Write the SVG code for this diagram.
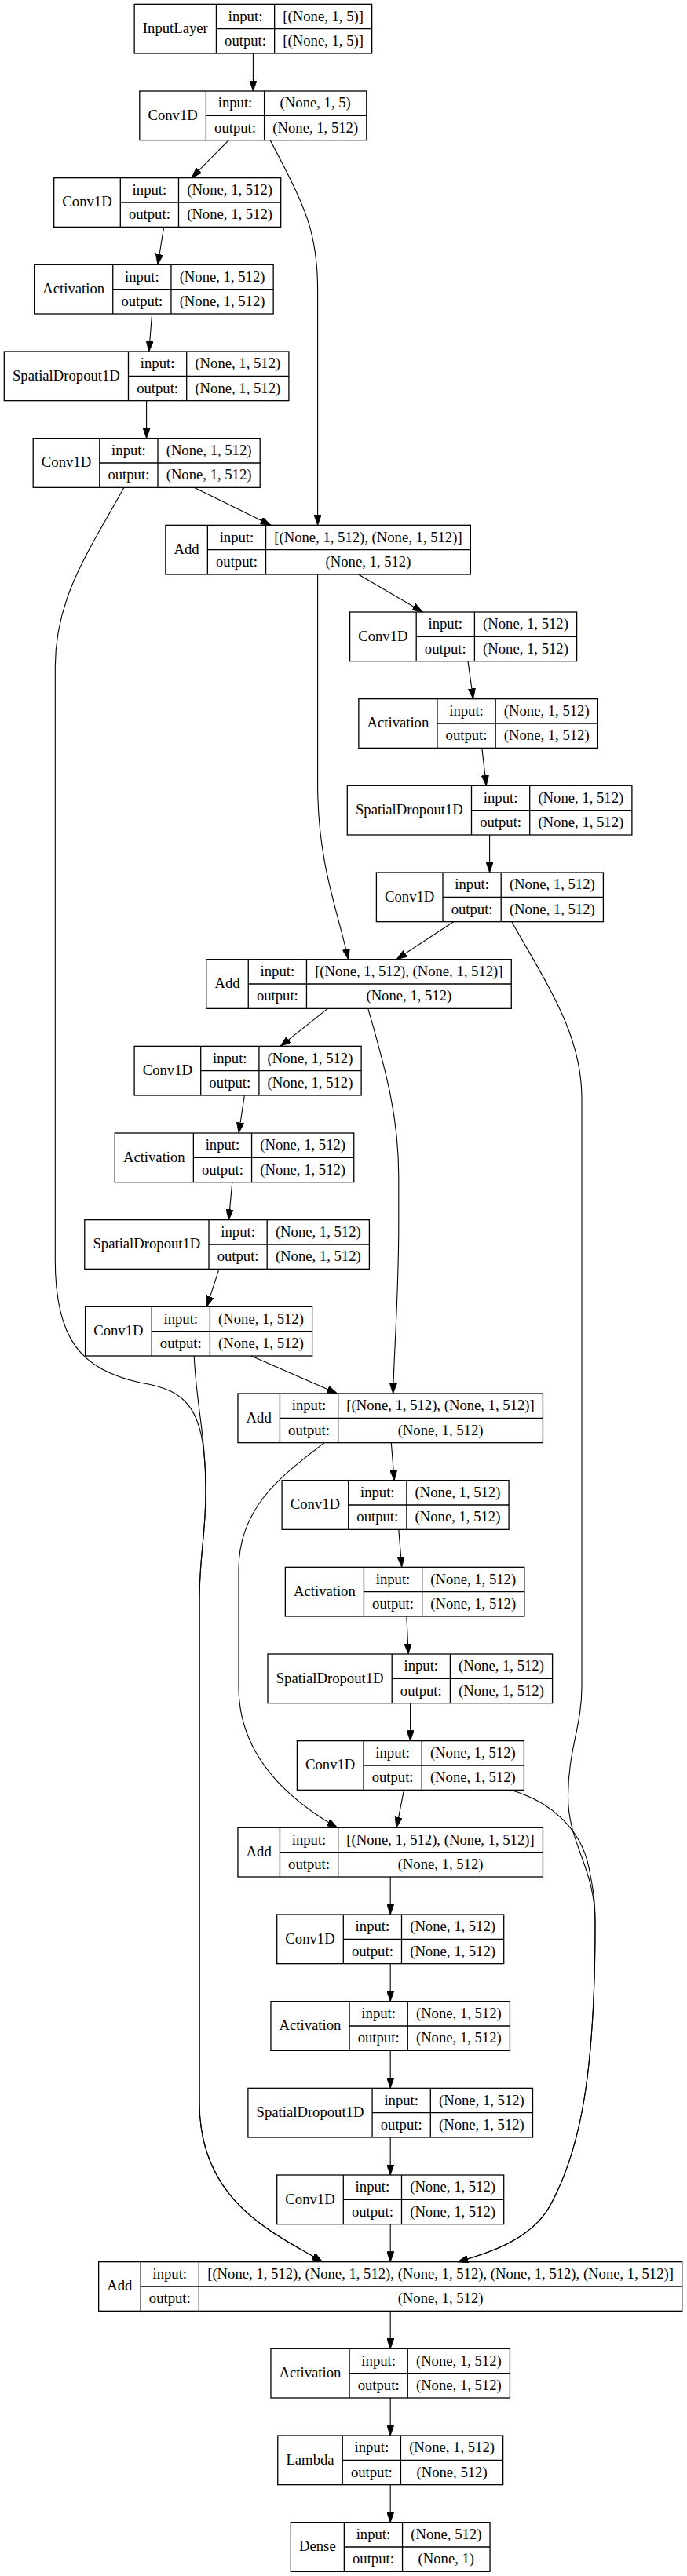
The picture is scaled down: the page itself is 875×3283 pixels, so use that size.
<svg xmlns="http://www.w3.org/2000/svg" width="875" height="3283" viewBox="0 0 875 3283">
<defs>
<style>
.b{fill:none;stroke:#000;stroke-width:1.3}
.t{font-family:"Liberation Serif","Times New Roman",serif;font-size:18.67px;text-anchor:middle;fill:#000}
.e path{fill:none;stroke:#000;stroke-width:1.1;marker-end:url(#ah)}
</style>
<marker id="ah" viewBox="0 0 13.33 9.33" refX="13.33" refY="4.67" markerWidth="13.33" markerHeight="9.33" orient="auto" markerUnits="userSpaceOnUse">
<path d="M0,0 L13.33,4.67 L0,9.33 z" fill="#000" stroke="#000" stroke-width="0.8"/>
</marker>
</defs>
<rect width="875" height="3283" fill="#fff"/>

<g id="n0" transform="translate(171.15,5.33)"><rect class="b" width="302.5" height="62.67"/><path class="b" d="M104.3,0V62.67M178.5,0V62.67M104.3,31.33H302.5"/><text class="t" x="52.15" y="36.8">InputLayer</text><text class="t" x="141.4" y="21.2">input:</text><text class="t" x="141.4" y="52.5">output:</text><text class="t" x="240.5" y="21.2">[(None, 1, 5)]</text><text class="t" x="240.5" y="52.5">[(None, 1, 5)]</text></g>

<g id="n1" transform="translate(177.8,116)"><rect class="b" width="289" height="62.67"/><path class="b" d="M84.6,0V62.67M158.8,0V62.67M84.6,31.33H289"/><text class="t" x="42.3" y="36.8">Conv1D</text><text class="t" x="121.7" y="21.2">input:</text><text class="t" x="121.7" y="52.5">output:</text><text class="t" x="223.9" y="21.2">(None, 1, 5)</text><text class="t" x="223.9" y="52.5">(None, 1, 512)</text></g>

<g id="n2" transform="translate(68.7,226.67)"><rect class="b" width="289" height="62.67"/><path class="b" d="M84.6,0V62.67M158.8,0V62.67M84.6,31.33H289"/><text class="t" x="42.3" y="36.8">Conv1D</text><text class="t" x="121.7" y="21.2">input:</text><text class="t" x="121.7" y="52.5">output:</text><text class="t" x="223.9" y="21.2">(None, 1, 512)</text><text class="t" x="223.9" y="52.5">(None, 1, 512)</text></g>

<g id="n3" transform="translate(43.65,337.33)"><rect class="b" width="304.5" height="62.67"/><path class="b" d="M100.1,0V62.67M174.3,0V62.67M100.1,31.33H304.5"/><text class="t" x="50.05" y="36.8">Activation</text><text class="t" x="137.2" y="21.2">input:</text><text class="t" x="137.2" y="52.5">output:</text><text class="t" x="239.4" y="21.2">(None, 1, 512)</text><text class="t" x="239.4" y="52.5">(None, 1, 512)</text></g>

<g id="n4" transform="translate(5.3,448)"><rect class="b" width="362.6" height="62.67"/><path class="b" d="M158.2,0V62.67M232.4,0V62.67M158.2,31.33H362.6"/><text class="t" x="79.1" y="36.8">SpatialDropout1D</text><text class="t" x="195.3" y="21.2">input:</text><text class="t" x="195.3" y="52.5">output:</text><text class="t" x="297.5" y="21.2">(None, 1, 512)</text><text class="t" x="297.5" y="52.5">(None, 1, 512)</text></g>

<g id="n5" transform="translate(42.2,558.67)"><rect class="b" width="289" height="62.67"/><path class="b" d="M84.6,0V62.67M158.8,0V62.67M84.6,31.33H289"/><text class="t" x="42.3" y="36.8">Conv1D</text><text class="t" x="121.7" y="21.2">input:</text><text class="t" x="121.7" y="52.5">output:</text><text class="t" x="223.9" y="21.2">(None, 1, 512)</text><text class="t" x="223.9" y="52.5">(None, 1, 512)</text></g>

<g id="n6" transform="translate(210.85,669.33)"><rect class="b" width="388.5" height="62.67"/><path class="b" d="M53.5,0V62.67M127.7,0V62.67M53.5,31.33H388.5"/><text class="t" x="26.75" y="36.8">Add</text><text class="t" x="90.6" y="21.2">input:</text><text class="t" x="90.6" y="52.5">output:</text><text class="t" x="258.1" y="21.2">[(None, 1, 512), (None, 1, 512)]</text><text class="t" x="258.1" y="52.5">(None, 1, 512)</text></g>

<g id="n7" transform="translate(445.6,780)"><rect class="b" width="289" height="62.67"/><path class="b" d="M84.6,0V62.67M158.8,0V62.67M84.6,31.33H289"/><text class="t" x="42.3" y="36.8">Conv1D</text><text class="t" x="121.7" y="21.2">input:</text><text class="t" x="121.7" y="52.5">output:</text><text class="t" x="223.9" y="21.2">(None, 1, 512)</text><text class="t" x="223.9" y="52.5">(None, 1, 512)</text></g>

<g id="n8" transform="translate(456.85,890.67)"><rect class="b" width="304.5" height="62.67"/><path class="b" d="M100.1,0V62.67M174.3,0V62.67M100.1,31.33H304.5"/><text class="t" x="50.05" y="36.8">Activation</text><text class="t" x="137.2" y="21.2">input:</text><text class="t" x="137.2" y="52.5">output:</text><text class="t" x="239.4" y="21.2">(None, 1, 512)</text><text class="t" x="239.4" y="52.5">(None, 1, 512)</text></g>

<g id="n9" transform="translate(442.3,1001.33)"><rect class="b" width="362.6" height="62.67"/><path class="b" d="M158.2,0V62.67M232.4,0V62.67M158.2,31.33H362.6"/><text class="t" x="79.1" y="36.8">SpatialDropout1D</text><text class="t" x="195.3" y="21.2">input:</text><text class="t" x="195.3" y="52.5">output:</text><text class="t" x="297.5" y="21.2">(None, 1, 512)</text><text class="t" x="297.5" y="52.5">(None, 1, 512)</text></g>

<g id="n10" transform="translate(479.4,1112)"><rect class="b" width="289" height="62.67"/><path class="b" d="M84.6,0V62.67M158.8,0V62.67M84.6,31.33H289"/><text class="t" x="42.3" y="36.8">Conv1D</text><text class="t" x="121.7" y="21.2">input:</text><text class="t" x="121.7" y="52.5">output:</text><text class="t" x="223.9" y="21.2">(None, 1, 512)</text><text class="t" x="223.9" y="52.5">(None, 1, 512)</text></g>

<g id="n11" transform="translate(262.75,1222.67)"><rect class="b" width="388.5" height="62.67"/><path class="b" d="M53.5,0V62.67M127.7,0V62.67M53.5,31.33H388.5"/><text class="t" x="26.75" y="36.8">Add</text><text class="t" x="90.6" y="21.2">input:</text><text class="t" x="90.6" y="52.5">output:</text><text class="t" x="258.1" y="21.2">[(None, 1, 512), (None, 1, 512)]</text><text class="t" x="258.1" y="52.5">(None, 1, 512)</text></g>

<g id="n12" transform="translate(171.1,1333.33)"><rect class="b" width="289" height="62.67"/><path class="b" d="M84.6,0V62.67M158.8,0V62.67M84.6,31.33H289"/><text class="t" x="42.3" y="36.8">Conv1D</text><text class="t" x="121.7" y="21.2">input:</text><text class="t" x="121.7" y="52.5">output:</text><text class="t" x="223.9" y="21.2">(None, 1, 512)</text><text class="t" x="223.9" y="52.5">(None, 1, 512)</text></g>

<g id="n13" transform="translate(146.25,1444)"><rect class="b" width="304.5" height="62.67"/><path class="b" d="M100.1,0V62.67M174.3,0V62.67M100.1,31.33H304.5"/><text class="t" x="50.05" y="36.8">Activation</text><text class="t" x="137.2" y="21.2">input:</text><text class="t" x="137.2" y="52.5">output:</text><text class="t" x="239.4" y="21.2">(None, 1, 512)</text><text class="t" x="239.4" y="52.5">(None, 1, 512)</text></g>

<g id="n14" transform="translate(107.8,1554.67)"><rect class="b" width="362.6" height="62.67"/><path class="b" d="M158.2,0V62.67M232.4,0V62.67M158.2,31.33H362.6"/><text class="t" x="79.1" y="36.8">SpatialDropout1D</text><text class="t" x="195.3" y="21.2">input:</text><text class="t" x="195.3" y="52.5">output:</text><text class="t" x="297.5" y="21.2">(None, 1, 512)</text><text class="t" x="297.5" y="52.5">(None, 1, 512)</text></g>

<g id="n15" transform="translate(108.6,1665.33)"><rect class="b" width="289" height="62.67"/><path class="b" d="M84.6,0V62.67M158.8,0V62.67M84.6,31.33H289"/><text class="t" x="42.3" y="36.8">Conv1D</text><text class="t" x="121.7" y="21.2">input:</text><text class="t" x="121.7" y="52.5">output:</text><text class="t" x="223.9" y="21.2">(None, 1, 512)</text><text class="t" x="223.9" y="52.5">(None, 1, 512)</text></g>

<g id="n16" transform="translate(302.95,1776)"><rect class="b" width="388.5" height="62.67"/><path class="b" d="M53.5,0V62.67M127.7,0V62.67M53.5,31.33H388.5"/><text class="t" x="26.75" y="36.8">Add</text><text class="t" x="90.6" y="21.2">input:</text><text class="t" x="90.6" y="52.5">output:</text><text class="t" x="258.1" y="21.2">[(None, 1, 512), (None, 1, 512)]</text><text class="t" x="258.1" y="52.5">(None, 1, 512)</text></g>

<g id="n17" transform="translate(359.1,1886.67)"><rect class="b" width="289" height="62.67"/><path class="b" d="M84.6,0V62.67M158.8,0V62.67M84.6,31.33H289"/><text class="t" x="42.3" y="36.8">Conv1D</text><text class="t" x="121.7" y="21.2">input:</text><text class="t" x="121.7" y="52.5">output:</text><text class="t" x="223.9" y="21.2">(None, 1, 512)</text><text class="t" x="223.9" y="52.5">(None, 1, 512)</text></g>

<g id="n18" transform="translate(363.35,1997.33)"><rect class="b" width="304.5" height="62.67"/><path class="b" d="M100.1,0V62.67M174.3,0V62.67M100.1,31.33H304.5"/><text class="t" x="50.05" y="36.8">Activation</text><text class="t" x="137.2" y="21.2">input:</text><text class="t" x="137.2" y="52.5">output:</text><text class="t" x="239.4" y="21.2">(None, 1, 512)</text><text class="t" x="239.4" y="52.5">(None, 1, 512)</text></g>

<g id="n19" transform="translate(341,2108)"><rect class="b" width="362.6" height="62.67"/><path class="b" d="M158.2,0V62.67M232.4,0V62.67M158.2,31.33H362.6"/><text class="t" x="79.1" y="36.8">SpatialDropout1D</text><text class="t" x="195.3" y="21.2">input:</text><text class="t" x="195.3" y="52.5">output:</text><text class="t" x="297.5" y="21.2">(None, 1, 512)</text><text class="t" x="297.5" y="52.5">(None, 1, 512)</text></g>

<g id="n20" transform="translate(378.4,2218.67)"><rect class="b" width="289" height="62.67"/><path class="b" d="M84.6,0V62.67M158.8,0V62.67M84.6,31.33H289"/><text class="t" x="42.3" y="36.8">Conv1D</text><text class="t" x="121.7" y="21.2">input:</text><text class="t" x="121.7" y="52.5">output:</text><text class="t" x="223.9" y="21.2">(None, 1, 512)</text><text class="t" x="223.9" y="52.5">(None, 1, 512)</text></g>

<g id="n21" transform="translate(302.95,2329.33)"><rect class="b" width="388.5" height="62.67"/><path class="b" d="M53.5,0V62.67M127.7,0V62.67M53.5,31.33H388.5"/><text class="t" x="26.75" y="36.8">Add</text><text class="t" x="90.6" y="21.2">input:</text><text class="t" x="90.6" y="52.5">output:</text><text class="t" x="258.1" y="21.2">[(None, 1, 512), (None, 1, 512)]</text><text class="t" x="258.1" y="52.5">(None, 1, 512)</text></g>

<g id="n22" transform="translate(352.7,2440)"><rect class="b" width="289" height="62.67"/><path class="b" d="M84.6,0V62.67M158.8,0V62.67M84.6,31.33H289"/><text class="t" x="42.3" y="36.8">Conv1D</text><text class="t" x="121.7" y="21.2">input:</text><text class="t" x="121.7" y="52.5">output:</text><text class="t" x="223.9" y="21.2">(None, 1, 512)</text><text class="t" x="223.9" y="52.5">(None, 1, 512)</text></g>

<g id="n23" transform="translate(344.95,2550.67)"><rect class="b" width="304.5" height="62.67"/><path class="b" d="M100.1,0V62.67M174.3,0V62.67M100.1,31.33H304.5"/><text class="t" x="50.05" y="36.8">Activation</text><text class="t" x="137.2" y="21.2">input:</text><text class="t" x="137.2" y="52.5">output:</text><text class="t" x="239.4" y="21.2">(None, 1, 512)</text><text class="t" x="239.4" y="52.5">(None, 1, 512)</text></g>

<g id="n24" transform="translate(315.9,2661.33)"><rect class="b" width="362.6" height="62.67"/><path class="b" d="M158.2,0V62.67M232.4,0V62.67M158.2,31.33H362.6"/><text class="t" x="79.1" y="36.8">SpatialDropout1D</text><text class="t" x="195.3" y="21.2">input:</text><text class="t" x="195.3" y="52.5">output:</text><text class="t" x="297.5" y="21.2">(None, 1, 512)</text><text class="t" x="297.5" y="52.5">(None, 1, 512)</text></g>

<g id="n25" transform="translate(352.7,2772)"><rect class="b" width="289" height="62.67"/><path class="b" d="M84.6,0V62.67M158.8,0V62.67M84.6,31.33H289"/><text class="t" x="42.3" y="36.8">Conv1D</text><text class="t" x="121.7" y="21.2">input:</text><text class="t" x="121.7" y="52.5">output:</text><text class="t" x="223.9" y="21.2">(None, 1, 512)</text><text class="t" x="223.9" y="52.5">(None, 1, 512)</text></g>

<g id="n26" transform="translate(125.65,2882.67)"><rect class="b" width="743.1" height="62.67"/><path class="b" d="M53.5,0V62.67M127.7,0V62.67M53.5,31.33H743.1"/><text class="t" x="26.75" y="36.8">Add</text><text class="t" x="90.6" y="21.2">input:</text><text class="t" x="90.6" y="52.5">output:</text><text class="t" x="435.4" y="21.2">[(None, 1, 512), (None, 1, 512), (None, 1, 512), (None, 1, 512), (None, 1, 512)]</text><text class="t" x="435.4" y="52.5">(None, 1, 512)</text></g>

<g id="n27" transform="translate(344.95,2993.33)"><rect class="b" width="304.5" height="62.67"/><path class="b" d="M100.1,0V62.67M174.3,0V62.67M100.1,31.33H304.5"/><text class="t" x="50.05" y="36.8">Activation</text><text class="t" x="137.2" y="21.2">input:</text><text class="t" x="137.2" y="52.5">output:</text><text class="t" x="239.4" y="21.2">(None, 1, 512)</text><text class="t" x="239.4" y="52.5">(None, 1, 512)</text></g>

<g id="n28" transform="translate(353.75,3104)"><rect class="b" width="286.9" height="62.67"/><path class="b" d="M82.5,0V62.67M156.7,0V62.67M82.5,31.33H286.9"/><text class="t" x="41.25" y="36.8">Lambda</text><text class="t" x="119.6" y="21.2">input:</text><text class="t" x="119.6" y="52.5">output:</text><text class="t" x="221.8" y="21.2">(None, 1, 512)</text><text class="t" x="221.8" y="52.5">(None, 512)</text></g>

<g id="n29" transform="translate(370.35,3214.67)"><rect class="b" width="253.7" height="62.67"/><path class="b" d="M68,0V62.67M142.2,0V62.67M68,31.33H253.7"/><text class="t" x="34" y="36.8">Dense</text><text class="t" x="105.1" y="21.2">input:</text><text class="t" x="105.1" y="52.5">output:</text><text class="t" x="197.95" y="21.2">(None, 512)</text><text class="t" x="197.95" y="52.5">(None, 1)</text></g>

<g id="connectors" class="e">
<path d="M322.4,68V116"/>
<path d="M291.3,178.67L244,226.67"/>
<path d="M344.3,178.67C385,258 404.6,290 404.6,370V669.33"/>
<path d="M208.7,289.33L200.9,337.33"/>
<path d="M193.6,400L189.7,448"/>
<path d="M186.6,510.67V558.67"/>
<path d="M247.2,621.33L344.9,669.33"/>
<path d="M157.9,621.33C115,700 70.3,760 70.3,850V1600C69,1710 105,1745 178,1762C240,1772 262,1795 262,1900C262,1960 254,1980 254,2040V2680C254,2810 355,2848 410.5,2882.67"/>
<path d="M456.5,732L538.5,780"/>
<path d="M404.6,732V1000C404.6,1100 430,1160 443.6,1222.67"/>
<path d="M596,842.67L602.7,890.67"/>
<path d="M613.8,953.33L619.4,1001.33"/>
<path d="M623.6,1064V1112"/>
<path d="M577.6,1174.67L505,1222.67"/>
<path d="M651.8,1174.67C700,1260 741,1320 741,1400V2150C741,2200 723.5,2230 723.5,2290C723.5,2350 758,2380 758,2450C758,2640 740,2740 700,2812C676,2855 620,2872 583.1,2882.67"/>
<path d="M417.4,1285.33L357.1,1333.33"/>
<path d="M468.8,1285.33C490,1360 507.8,1420 507.8,1500V1560C507.8,1650 502,1720 500.6,1776"/>
<path d="M311.4,1396L304.1,1444"/>
<path d="M295.8,1506.67L291.3,1554.67"/>
<path d="M279,1617.33L263.4,1665.33"/>
<path d="M319.8,1728L429.7,1776"/>
<path d="M247.2,1728C250,1790 262,1830 262,1900C262,1960 254,1980 254,2040V2680C254,2810 355,2848 410.5,2882.67"/>
<path d="M498.3,1838.67L502.2,1886.67"/>
<path d="M413,1838.67C360,1880 304,1920 304,2000V2150C304,2240 370,2295 429.7,2329.33"/>
<path d="M507.8,1949.33L511.7,1997.33"/>
<path d="M517.9,2060L520.1,2108"/>
<path d="M522.6,2170.67V2218.67"/>
<path d="M514.5,2281.33L505,2329.33"/>
<path d="M650.1,2281.33C700,2295 740,2330 750,2380C755,2405 758,2420 758,2450C758,2640 740,2740 700,2812C676,2855 620,2872 583.1,2882.67"/>
<path d="M497.2,2392V2440"/>
<path d="M497.2,2502.67V2550.67"/>
<path d="M497.2,2613.33V2661.33"/>
<path d="M497.2,2724V2772"/>
<path d="M497.2,2834.67V2882.67"/>
<path d="M497.2,2945.33V2993.33"/>
<path d="M497.2,3056V3104"/>
<path d="M497.2,3166.67V3214.67"/>
</g>
</svg>
